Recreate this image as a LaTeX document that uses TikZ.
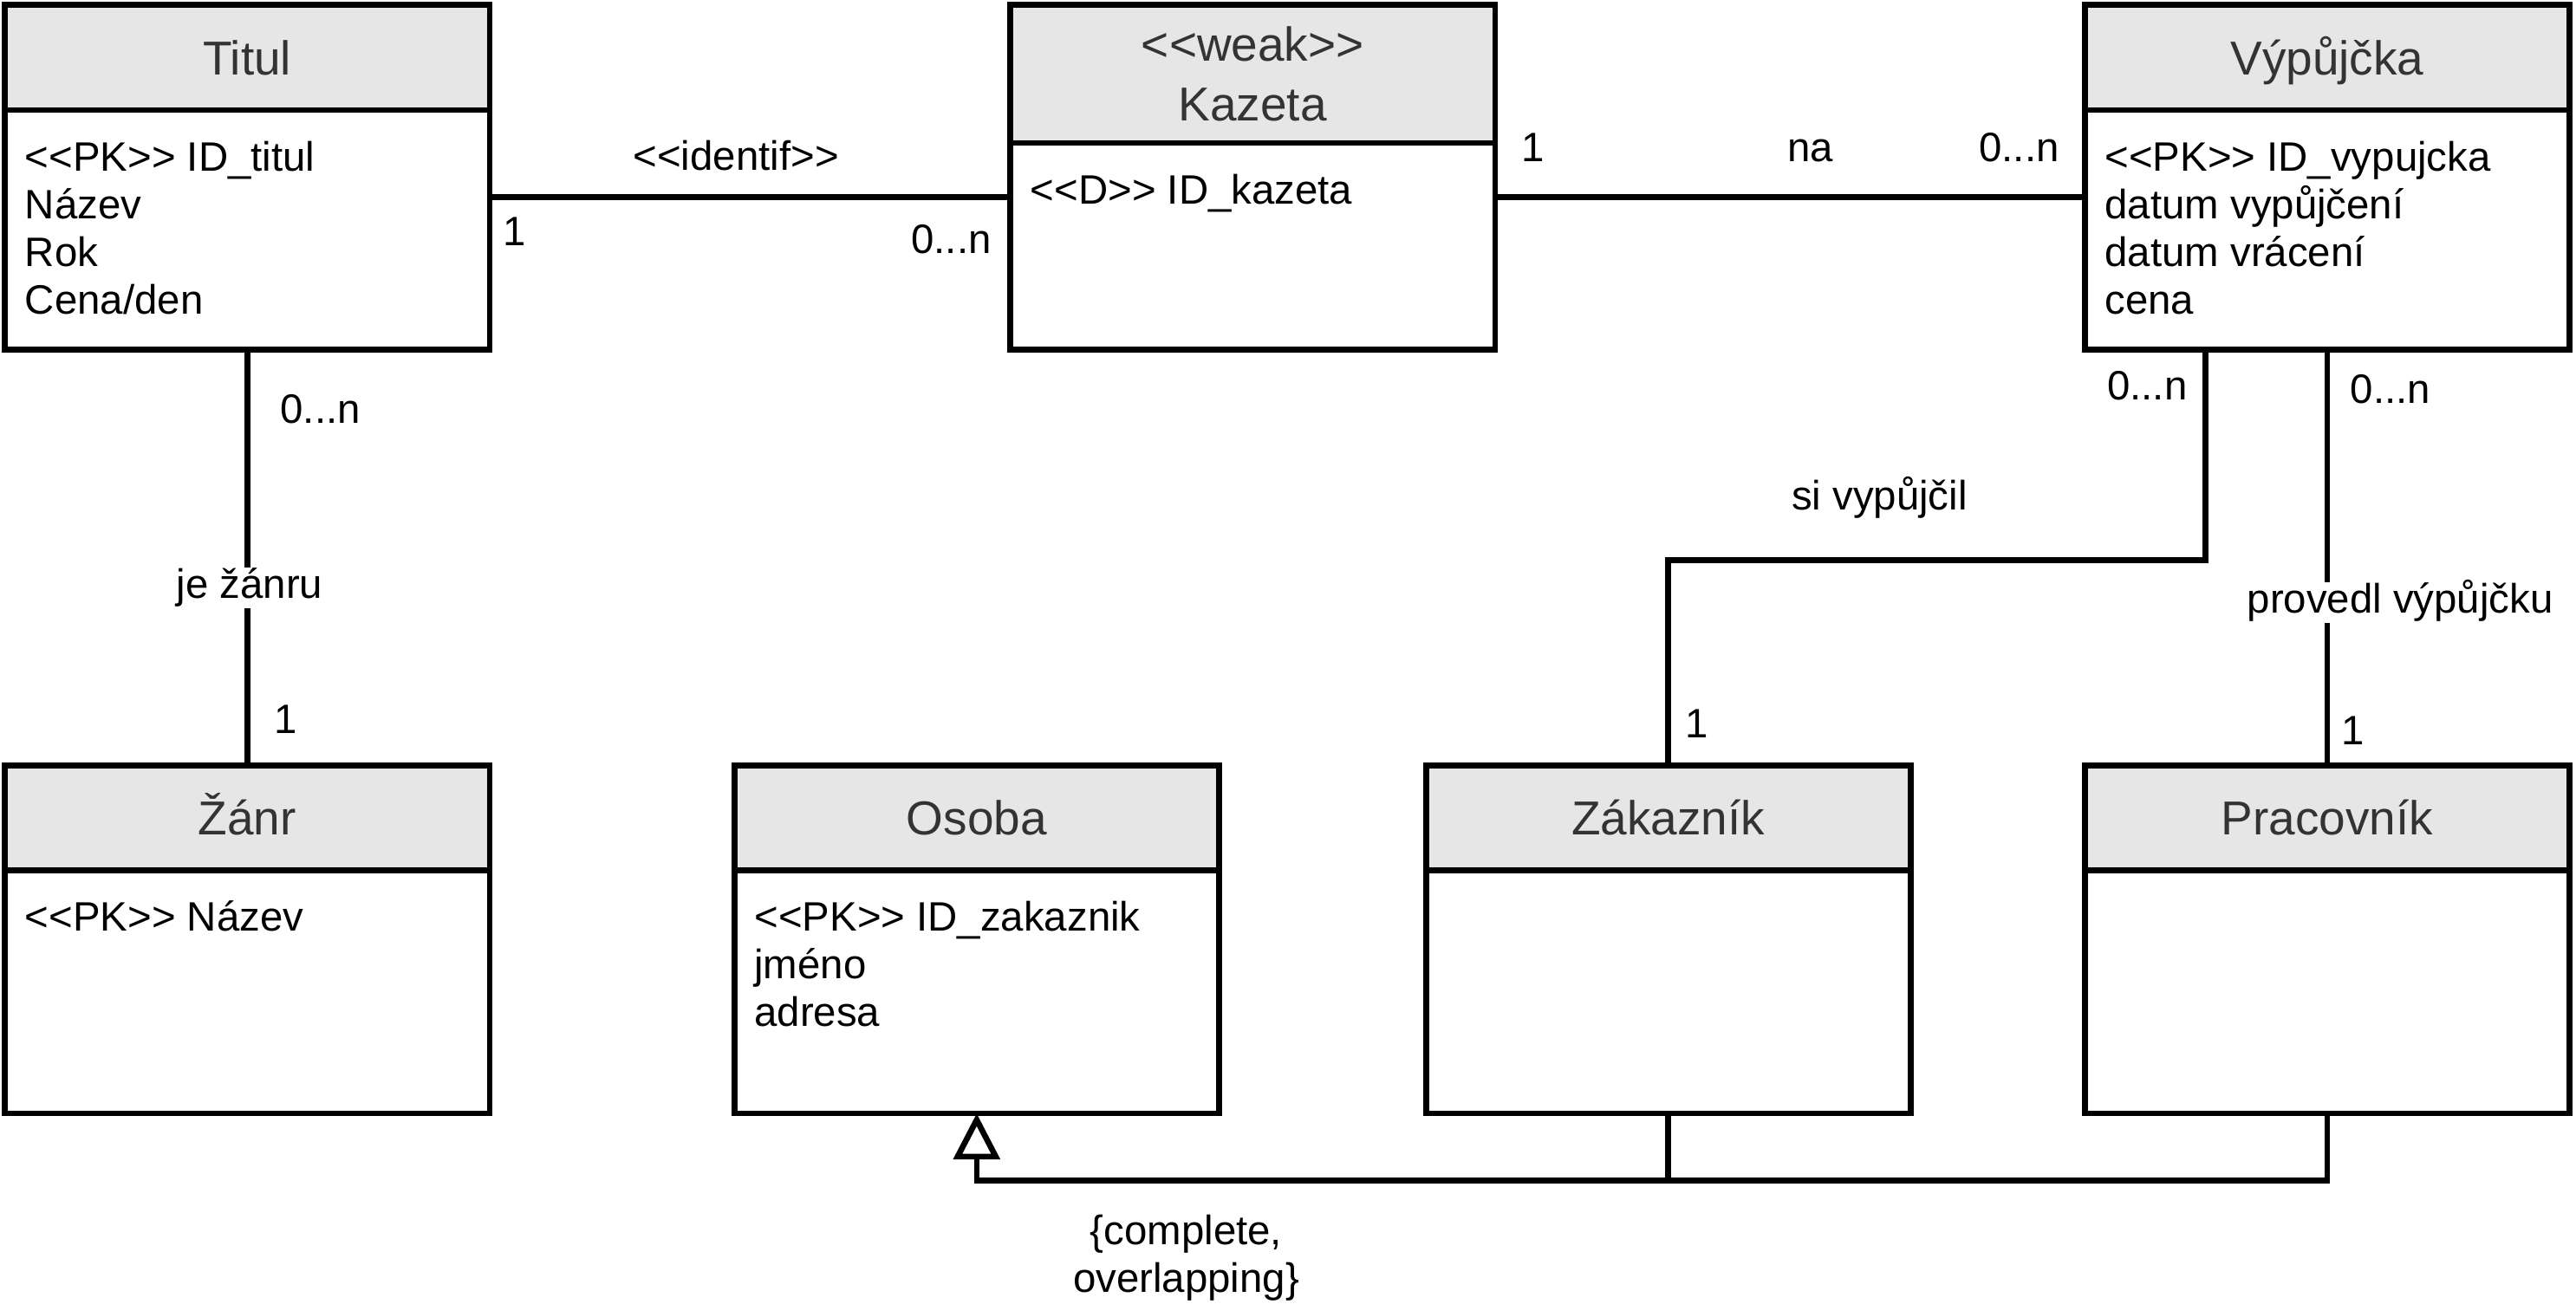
\documentclass[tikz,border=0pt]{standalone}
\usepackage{fontspec}
\setmainfont{Liberation Sans}
\usetikzlibrary{arrows.meta}
\definecolor{headgray}{HTML}{E6E6E6}
\definecolor{titlegray}{HTML}{333333}
\newcommand{\st}[1]{<\kern0pt<#1>\kern0pt>}

\begin{document}
\begin{tikzpicture}[x=1pt,y=-1pt,line width=3.5pt,
    enthead/.style={draw,fill=headgray,anchor=north west,outer sep=0pt,
      minimum width=295pt,minimum height=64pt,text=titlegray,
      font=\fontsize{29}{36}\selectfont,text height=21pt,text depth=0pt},
    entbody/.style={draw,fill=white,anchor=north west,outer sep=0pt,
      minimum width=295pt,minimum height=#1},
    entbody/.default=146pt,
    entattr/.style={anchor=base west,inner sep=0pt,font=\fontsize{25}{29}\selectfont},
    rel/.style={inner sep=1pt,font=\fontsize{25}{29}\selectfont,text height=18pt,text depth=5pt}]
  \useasboundingbox[fill=white] (0,0) rectangle (1568,794);

  % entities, top row
  \node[enthead] (titul-head) at (3,3) {Titul};
  \node[entbody] (titul-body) at (titul-head.south west) {};
  \foreach \a [count=\i] in {{\st{PK} ID\_titul},Název,Rok,Cena/den}
    \node[entattr] (titul-a\i) at (13.5,75+29*\i) {\a};

  \node[enthead,minimum height=84pt,text height=,text depth=,align=center] (kazeta-head) at (615,3) {\st{weak}\\Kazeta};
  \node[entbody=126pt] (kazeta-body) at (kazeta-head.south west) {};
  \node[entattr] (kazeta-a1) at (625.5,124) {\st{D} ID\_kazeta};

  \node[enthead] (vyp-head) at (1269,3) {Výpůjčka};
  \node[entbody] (vyp-body) at (vyp-head.south west) {};
  \foreach \a [count=\i] in {{\st{PK} ID\_vypujcka},datum vypůjčení,datum vrácení,cena}
    \node[entattr] (vyp-a\i) at (1279.5,75+29*\i) {\a};

  % entities, bottom row
  \node[enthead] (zanr-head) at (3,466) {Žánr};
  \node[entbody=148pt] (zanr-body) at (zanr-head.south west) {};
  \node[entattr] (zanr-a1) at (13.5,567) {\st{PK} Název};

  \node[enthead] (osoba-head) at (447,466) {Osoba};
  \node[entbody=148pt] (osoba-body) at (osoba-head.south west) {};
  \foreach \a [count=\i] in {{\st{PK} ID\_zakaznik},jméno,adresa}
    \node[entattr] (osoba-a\i) at (457.5,538+29*\i) {\a};

  \node[enthead] (zak-head) at (868,466) {Zákazník};
  \node[entbody=148pt] (zak-body) at (zak-head.south west) {};

  \node[enthead] (prac-head) at (1269,466) {Pracovník};
  \node[entbody=148pt] (prac-body) at (prac-head.south west) {};

  % relationships
  \draw ([yshift=20pt]titul-body.east) coordinate (tk) -- (tk -| kazeta-body.west);
  \draw ([yshift=30pt]kazeta-body.east) coordinate (kv) -- (kv -| vyp-body.west);
  \draw (titul-body.south) -- (zanr-head.north);
  \draw ([xshift=-74pt]vyp-body.south) -- ++(0,128) -| (zak-head.north);
  \draw (vyp-body.south) -- (prac-head.north);

  % generalization
  \draw[-{Triangle[open,length=28pt,width=28pt]}] (zak-body.south) -- ++(0,41) -| (osoba-body.south);
  \draw (prac-body.south) -- ++(0,41) -| (zak-body.south);

  % labels
  \node[rel] (l-identif) at (448,97) {\st{identif}};
  \node[rel] (m-tk1) at (313,143) {1};
  \node[rel] (m-tk2) at (579,148) {0...n};
  \node[rel] (m-kv1) at (933,92) {1};
  \node[rel] (l-na) at (1102,92) {na};
  \node[rel] (m-kv2) at (1229,92) {0...n};
  \node[rel] (m-tz1) at (195,251) {0...n};
  \node[rel,fill=white] (l-zanru) at (152,358) {je žánru};
  \node[rel] (m-tz2) at (174,440) {1};
  \node[rel] (m-vz1) at (1307,237) {0...n};
  \node[rel] (l-vypujcil) at (1144,304) {si vypůjčil};
  \node[rel] (m-vz2) at (1033,443) {1};
  \node[rel] (m-vp1) at (1455,239) {0...n};
  \node[rel,fill=white] (l-provedl) at (1461,367) {provedl výpůjčku};
  \node[rel] (m-vp2) at (1432,447) {1};
  \node[inner sep=0pt,font=\fontsize{25}{29}\selectfont,align=center] (l-gen) at (722,766) {\{complete,\\overlapping\}};
\end{tikzpicture}
\end{document}
